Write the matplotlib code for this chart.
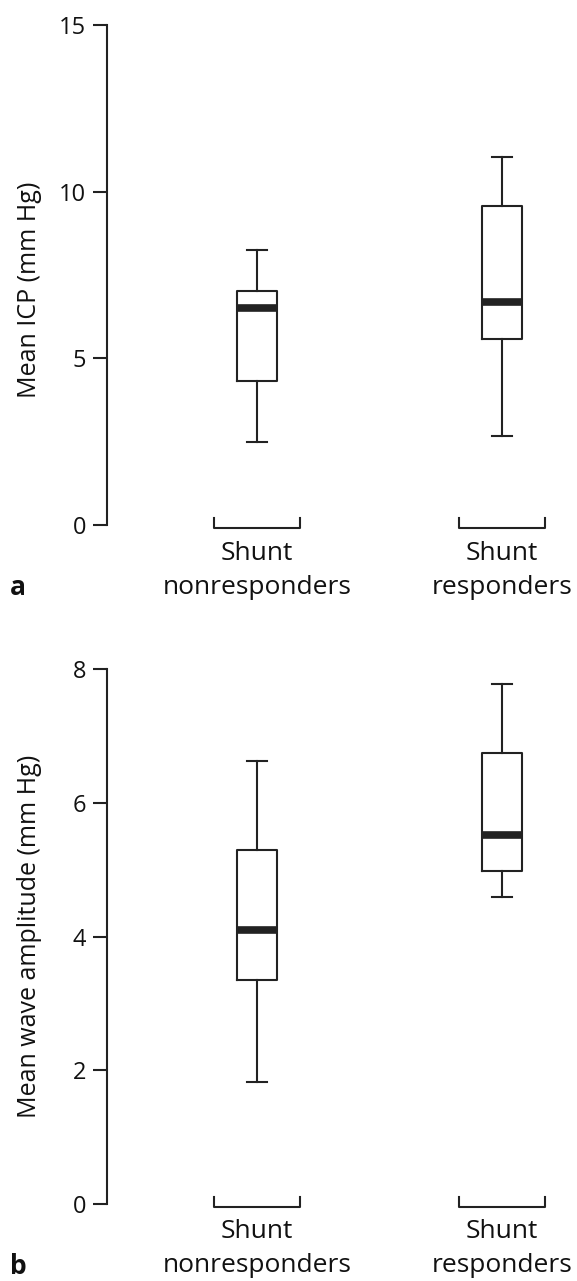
import matplotlib
matplotlib.use("Agg")
import matplotlib.pyplot as plt

plt.rcParams['font.family'] = ['Open Sans', 'DejaVu Sans']

groups = ["Shunt\nnonresponders", "Shunt\nresponders"]

# panel a: mean ICP (mm Hg) -> whisker low, q1, median, q3, whisker high
icp_low = [2.48, 2.67]
icp_q1 = [4.32, 5.58]
icp_med = [6.51, 6.70]
icp_q3 = [7.02, 9.57]
icp_high = [8.26, 11.04]
icp_ticks = [0, 5, 10, 15]

# panel b: mean wave amplitude (mm Hg)
amp_low = [1.82, 4.59]
amp_q1 = [3.35, 4.98]
amp_med = [4.09, 5.52]
amp_q3 = [5.29, 6.74]
amp_high = [6.62, 7.77]
amp_ticks = [0, 2, 4, 6, 8]

W, H, DPI = 577, 1281, 100
AX_LEFT = 107


def make_stats(low, q1, med, q3, high):
    return [dict(whislo=a, q1=b, med=c, q3=d, whishi=e, fliers=[])
            for a, b, c, d, e in zip(low, q1, med, q3, high)]


def panel(fig, top_px, bottom_px, stats, ticks, ylabel, letter, label_y=0.5):
    ax = fig.add_axes([AX_LEFT / W, 1 - bottom_px / H,
                       1 - AX_LEFT / W, (bottom_px - top_px) / H])
    lw = 1.5
    ax.bxp(stats, positions=[1, 2], widths=0.16, capwidths=0.082,
           showfliers=False, patch_artist=False,
           boxprops=dict(color='#222222', linewidth=lw),
           whiskerprops=dict(color='#222222', linewidth=lw),
           capprops=dict(color='#222222', linewidth=lw),
           medianprops=dict(color='#222222', linewidth=5.5, solid_capstyle='butt'))
    ax.set_xlim(0.388, 2.306)
    ax.set_ylim(ticks[0], ticks[-1])
    ax.set_yticks(ticks)
    ax.tick_params(axis='y', length=10, width=1.5, pad=5, labelsize=17,
                   color='#222222', labelcolor='#111111')
    for s in ['top', 'right', 'bottom']:
        ax.spines[s].set_visible(False)
    ax.spines['left'].set_linewidth(1.5)
    ax.spines['left'].set_color('#222222')
    ax.set_xticks([])
    ax.set_ylabel(ylabel, fontsize=18, color='#111111')
    ax.yaxis.label.set_verticalalignment('center')
    ax.yaxis.set_label_coords((30 - AX_LEFT) / (W - AX_LEFT), label_y)

    # group brackets and labels below the plot
    h_px = bottom_px - top_px
    trans = ax.get_xaxis_transform()
    y0 = -3 / h_px
    y1 = 7 / h_px
    for pos, name in zip([1, 2], groups):
        ax.plot([pos - 0.176, pos - 0.176, pos + 0.176, pos + 0.176],
                [y1, y0, y0, y1], transform=trans, clip_on=False,
                color='#222222', linewidth=1.5)
        first, second = name.split("\n")
        ax.annotate(first, xy=(pos, 0), xycoords=trans, xytext=(0, -28),
                    textcoords='offset pixels', ha='center', va='center',
                    fontsize=19, color='#111111')
        ax.annotate(second, xy=(pos, 0), xycoords=trans, xytext=(0, -62),
                    textcoords='offset pixels', ha='center', va='center',
                    fontsize=19, color='#111111')
    fig.text(18 / W, 1 - (bottom_px + 62) / H, letter, fontsize=19,
             fontweight='bold', ha='center', va='center', color='#111111')
    return ax


fig = plt.figure(figsize=(W / DPI, H / DPI), dpi=DPI)
panel(fig, 25, 525, make_stats(icp_low, icp_q1, icp_med, icp_q3, icp_high),
      icp_ticks, "Mean ICP (mm Hg)", "a", label_y=0.47)
panel(fig, 669, 1204, make_stats(amp_low, amp_q1, amp_med, amp_q3, amp_high),
      amp_ticks, "Mean wave amplitude (mm Hg)", "b")

fig.savefig("out.png", dpi=DPI)
